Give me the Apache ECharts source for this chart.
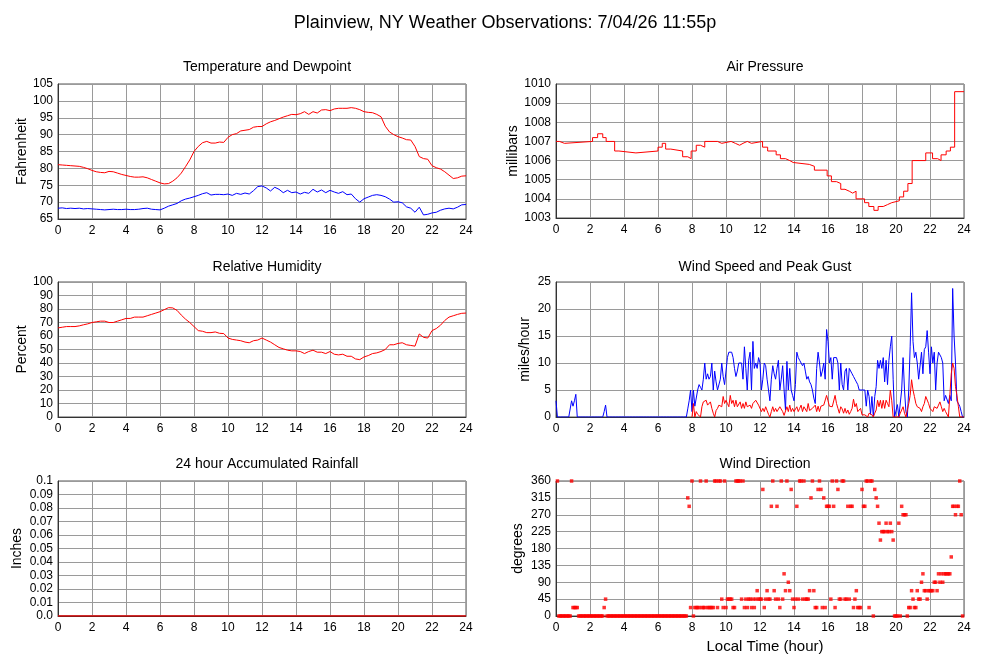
<!DOCTYPE html>
<html><head><meta charset="utf-8">
<script src="https://cdn.jsdelivr.net/npm/echarts@6/dist/echarts.min.js"></script>
<style>html,body{margin:0;padding:0;background:#fff}#c{width:1000px;height:660px}</style>
</head><body><div id="c"></div>
<script>
// ---- data (15-minute samples, 0..24 h) ----
const tempF = [
81.1,81.0,80.9,80.8, 80.7,80.6,80.3,79.9, 79.4,79.0,78.8,78.7, 79.1,79.0,78.6,78.2,
77.9,77.6,77.4,77.4, 77.5,77.2,76.7,76.2, 75.7,75.4,75.5,76.2, 77.2,78.6,80.5,82.5,
85.0,86.5,87.6,88.0, 87.5,87.5,87.8,87.7, 89.2,90.0,90.3,91.1, 91.3,91.5,92.2,92.4,
92.4,93.2,93.8,94.2, 94.7,95.2,95.6,96.0, 95.9,96.2,96.8,96.0, 96.8,96.4,97.3,97.4,
97.1,97.6,97.8,97.8, 97.8,98.0,97.8,97.4, 96.8,96.6,96.5,96.0, 95.3,92.5,90.8,90.0,
89.4,89.0,88.5,88.4, 86.5,83.5,82.9,82.7, 80.8,80.2,79.8,79.0, 78.0,77.0,77.2,77.7,
77.8];
const dewF = [
68.2,68.3,68.1,68.2, 68.1,68.2,68.0,68.1, 68.0,67.9,67.8,67.7, 67.8,67.9,67.8,67.8,
67.9,67.8,67.8,67.9, 68.1,68.2,67.9,67.8, 67.7,68.2,68.8,69.2, 69.6,70.4,70.9,71.2,
71.6,72.0,72.5,72.8, 72.1,72.3,72.3,72.2, 72.4,72.0,72.6,72.3, 72.7,72.4,73.4,74.6,
74.8,74.2,73.3,74.4, 73.8,72.8,73.5,72.8, 73.0,72.4,72.9,72.6, 73.8,73.0,73.6,72.8,
73.5,73.0,72.6,73.1, 72.2,72.4,71.0,70.0, 71.0,71.5,72.0,72.2, 72.0,71.6,70.9,70.0,
70.1,69.8,68.6,68.2, 67.0,68.5,66.2,66.4, 66.8,67.0,67.6,68.0, 68.2,68.0,68.5,69.2,
69.3];
const rhPct = [
66,66.5,67,67, 67,67.5,68.3,69, 70,70.5,71,71, 70,70,71,72,
73,73,74,74, 74,75,76,77, 78,79.5,81,80.8, 79,75.5,72.5,70,
67,64,63.5,62.5, 62.5,63,62,61.8, 58.5,57.5,57,56.5, 55.5,55,56.5,57,
58.5,57,55.5,53.5, 51.5,50.5,49.5,49, 49,48.5,47,48.5, 49.5,48,48,47,
48.5,46.5,46,46.5, 45,45,43,42.5, 44.5,45.5,47,47.5, 48.5,50,53.5,53.5,
54.5,55,53.5,53, 52.5,61.5,59,58.5, 64,65.5,68,71.5, 74,75,76,76.8,
77];
// pressure: hour at which each reading begins, and the reading
const presHours = [0,0.2,0.5,2.15,2.45,2.75,2.95,3.45,3.7,4.7,6.0,6.25,6.45,6.75,7.45,7.75,7.95,8.25,8.5,8.75,
9.5,9.75,10.3,10.55,10.8,11.0,11.25,11.5,12.15,12.45,12.95,13.2,13.5,13.75,13.95,14.9,15.2,15.95,16.2,16.5,
16.75,17.0,17.25,17.45,17.65,18.15,18.4,18.7,18.95,19.25,19.5,19.75,20.2,20.45,20.7,20.95,21.75,22.15,22.45,22.65,
22.95,23.2,23.45,24];
const presMb = [1007.0,1006.9,1007.0,1007.2,1007.4,1007.2,1007.0,1006.5,1006.4,1006.5,1006.7,1006.9,1006.6,1006.5,1006.2,1006.1,1006.5,1006.8,1006.7,1007.0,
1006.9,1007.0,1006.9,1006.8,1006.9,1007.0,1006.9,1007.0,1006.7,1006.5,1006.3,1006.1,1006.0,1005.9,1005.8,1005.7,1005.5,1005.2,1004.9,1004.8,
1004.5,1004.4,1004.3,1004.4,1004.0,1003.8,1003.6,1003.4,1003.6,1003.7,1003.8,1003.9,1004.1,1004.4,1004.8,1006.0,1006.4,1006.1,1006.0,1006.3,
1006.5,1006.7,1009.6,1009.6];
const rainHours = [0,24];
const rainIn = [0,0];
// 5-minute samples, 12 per hour
const gustMph = [
3,0,0,0,0,0,0,0,0,0,0,3,
2,3,4.2,0,0,0,0,0,0,0,0,0,
0,0,0,0,0,0,0,0,0,0,1,2.2,
0,0,0,0,0,0,0,0,0,0,0,0,
0,0,0,0,0,0,0,0,0,0,0,0,
0,0,0,0,0,0,0,0,0,0,0,0,
0,0,0,0,0,0,0,0,0,0,0,0,
0,0,0,0,0,0,0,0,0,1.5,3,5,
1,5,2,2,5,6,5.5,5,7,10,7,8,
7,7.5,10,5,8.5,6.5,5,5,7,10,7.5,6,
6,11,12,12,12,11,9,7.5,8.5,10,10,10,
7,13,9,5,10.5,12,5,14,9,10,9,11,
10,5,7,10,9.5,7,5,3,7,9.5,8,7,
9,10.5,5,7,9.5,5,1.3,10.3,5,9,5,4,
3,6,12,11,10.5,10,9.5,10,8.5,7,7.5,6.5,
6,5,3.5,2.5,9,12,10,7.5,8.5,10,7,16.2,
14,10,11,7,11,11,11,10,5,10,6,5,
8.5,9,5,9,8.7,8,7.5,7,6.5,6,5,5,
5,5,5,2,5,3.8,0.5,3.8,0,3.8,5.6,10.5,
9,10.5,9,11,6.5,10.5,6,10.5,13,15,7,0,
0,2.3,0,0,5,11,5,1,0,5,13,23,
14,11,12,10,7,7,12,8,12.5,13,16,12,
8,13,10,12,5,10,12,12,11,10,3,4,
4,2.5,4,3,23.8,15,10,3,3,2,1,0,
0];
const _ = null;
const speedMph = [
_,_,_,_,_,_,_,_,_,_,_,_,
_,_,_,_,_,_,_,_,_,_,_,_,
_,_,_,_,_,_,_,_,_,_,_,_,
_,_,_,_,_,_,_,_,_,_,_,_,
_,_,_,_,_,_,_,_,_,_,_,_,
_,_,_,_,_,_,_,_,_,_,_,_,
_,_,_,_,_,_,_,_,_,_,_,_,
_,_,_,_,_,_,_,_,_,_,_,_,
0,2.5,0,1,0.5,0.5,0,1.9,2.8,2.5,3.1,2.2,
2.5,2.8,1.6,0.7,0,1.2,1.6,2.2,1.9,1.9,3.8,2.5,
3.1,2.5,1.9,4,2.5,3.1,1.9,3.1,1.9,1.9,2.8,1.6,
2.5,1.6,2.8,1.9,1.9,2.2,1.6,2.5,2.8,3.1,3.1,2.2,
2.5,1,1.6,1,1.9,1.2,0.5,0,1,1.9,1,1.6,
1,1,1.9,1.6,1,0.3,0,1.9,1,2.2,1,1.6,
1,1,1.9,1,1.6,2.2,1,1.9,1.6,1,2.5,1.2,
1,1.6,1.9,2.2,1,2,1,2,2,2.2,2,4,
3,2,1.9,1.9,2,4,2.5,1.6,0.7,1.9,1.5,0.7,
1.6,0.7,1.3,0.5,1,1.6,3.3,1.9,2.5,1,1,1.6,
0.4,0.7,0.4,0.7,0,0.7,0.4,0.4,0,0.7,1.3,3.1,
1.9,3.1,1.6,3.1,1.6,3.1,2.5,1.9,5,3,0,0,
0,0,0,0.7,0.7,1.9,0.7,0,1.3,2.5,4,6.9,
5,3.8,2.5,1.9,1.9,1.6,1,1.9,2.5,3.8,3.8,2.5,
1.6,1.9,1,1.9,1.9,1.6,2.2,2.8,1.9,1,1.6,1,
1,0,0,8,10,9,5.6,4,2,0,0,0,
0];
const windDirDeg = [
_,360,0,0,0,0,0,0,0,0,0,360,
22.5,22.5,22.5,22.5,0,0,0,0,0,0,0,0,
0,0,0,0,0,0,0,0,0,0,22.5,45,
0,0,0,0,0,0,0,0,0,0,0,0,
0,0,0,0,0,0,0,0,0,0,0,0,
0,0,0,0,0,0,0,0,0,0,0,0,
0,0,0,0,0,0,0,0,0,0,0,0,
0,0,0,0,0,0,0,0,0,315,292.5,22.5,
360,0,22.5,22.5,22.5,22.5,360,22.5,22.5,22.5,360,22.5,
22.5,22.5,22.5,22.5,360,360,22.5,360,360,45,22.5,360,
22.5,45,45,45,45,22.5,22.5,360,360,360,360,45,
360,22.5,45,22.5,45,45,22.5,45,22.5,45,67.5,45,
45,45,337.5,22.5,45,67.5,45,45,292.5,360,67.5,45,
292.5,45,22.5,360,45,112.5,67.5,360,90,67.5,337.5,45,
22.5,45,292.5,45,360,360,45,360,45,45,45,67.5,
315,360,67.5,22.5,22.5,337.5,360,337.5,22.5,315,22.5,292.5,
292.5,292.5,45,360,292.5,22.5,360,337.5,45,45,360,360,
45,45,292.5,45,292.5,292.5,22.5,45,67.5,22.5,22.5,22.5,
337.5,292.5,292.5,360,360,22.5,360,360,0,337.5,315,292.5,
247.5,202.5,225,225,225,247.5,225,225,247.5,225,202.5,0,
0,0,247.5,0,292.5,270,270,270,0,22.5,22.5,67.5,
45,22.5,22.5,67.5,45,45,90,112.5,67.5,67.5,45,67.5,
67.5,67.5,67.5,90,90,67.5,112.5,90,112.5,90,112.5,112.5,
112.5,112.5,112.5,157.5,292.5,292.5,270,292.5,292.5,360,270,0];

const mainTitle = 'Plainview, NY Weather Observations: 7/04/26 11:55p';
const panelTitles = ['Temperature and Dewpoint','Air Pressure','Relative Humidity','Wind Speed and Peak Gust','24 hour Accumulated Rainfall','Wind Direction'];
const yNames = ['Fahrenheit','millibars','Percent','miles/hour','Inches','degrees'];

// ---- build ----
const FF = 'Liberation Sans, Arial, sans-serif';
const qH = i => i / 4, fH = i => i / 12;
const pairs = (vals, hf) => vals.map((v, i) => [hf(i), v]);

const grids = [
  {left:58, top:84, width:408, height:135},
  {left:556, top:84, width:408, height:134},
  {left:58, top:282, width:408, height:135},
  {left:556, top:282, width:408, height:135},
  {left:58, top:481, width:408, height:135},
  {left:556, top:481, width:408, height:135}
].map(g => Object.assign(g, {show:true, borderColor:'#555', borderWidth:1, backgroundColor:'#fff'}));

const xAxes = grids.map((g, gi) => ({
  type:'value', gridIndex:gi, min:0, max:24, interval:2,
  axisLine:{show:true, lineStyle:{color:'#333'}}, axisTick:{show:false},
  axisLabel:{color:'#000', fontSize:12, margin:6, fontFamily:FF},
  splitLine:{show:true, lineStyle:{color:'#9a9a9a', width:1}}
}));
const plain = v => String(v);
const yCfg = [
  [65,105,5,29,plain],
  [1003,1010,1,30,plain],
  [0,100,10,29,plain],
  [0,25,5,24,plain],
  [0,0.1,0.01,34,v => v === 0 ? '0.0' : String(+v.toFixed(2))],
  [0,360,45,31,plain]
];
const yAxes = yCfg.map((c, gi) => ({
  type:'value', gridIndex:gi, min:c[0], max:c[1], interval:c[2],
  name:yNames[gi], nameLocation:'middle', nameGap:c[3],
  nameTextStyle:{color:'#000', fontSize:14, fontFamily:FF},
  axisLine:{show:true, lineStyle:{color:'#333'}}, axisTick:{show:false},
  axisLabel:{color:'#000', fontSize:12, margin:5, fontFamily:FF, formatter:c[4]},
  splitLine:{show:true, lineStyle:{color:'#9a9a9a', width:1}}
}));

const lineS = (gi, data, color, extra) => Object.assign({
  type:'line', xAxisIndex:gi, yAxisIndex:gi, data, showSymbol:false, symbol:'none',
  lineStyle:{color, width:1}, itemStyle:{color}, animation:false, connectNulls:false
}, extra || {});

const series = [
  lineS(0, pairs(dewF, qH), '#0000ff'),
  lineS(0, pairs(tempF, qH), '#ff0000'),
  lineS(1, presMb.map((v, i) => [presHours[i], v]), '#ff0000', {step:'end'}),
  lineS(2, pairs(rhPct, qH), '#ff0000'),
  lineS(3, pairs(gustMph, fH), '#0000ff'),
  lineS(3, pairs(speedMph, fH), '#ff0000'),
  lineS(4, rainIn.map((v, i) => [rainHours[i], v]), '#e00000', {lineStyle:{color:'#e00000', width:1.5}}),
  {type:'scatter', xAxisIndex:5, yAxisIndex:5, symbol:'rect', symbolSize:3.5,
   itemStyle:{color:'#ff0000'}, animation:false,
   data: pairs(windDirDeg, fH).filter(p => p[1] !== null)}
];

const titleCenters = [[262,55],[760,55],[262,255],[760,255],[262,452],[760,452]];
const titles = [{text:mainTitle, left:500, top:9, textAlign:'center',
  textStyle:{fontSize:18, fontWeight:'normal', color:'#000', fontFamily:FF}}]
  .concat(panelTitles.map((t, i) => ({text:t, left:titleCenters[i][0], top:titleCenters[i][1], textAlign:'center',
    textStyle:{fontSize:14, fontWeight:'normal', color:'#000', fontFamily:FF}})))
  .concat([{text:'Local Time (hour)', left:760, top:634, textAlign:'center',
    textStyle:{fontSize:15, fontWeight:'normal', color:'#000', fontFamily:FF}}]);

const chart = echarts.init(document.getElementById('c'), null, {renderer:'canvas'});
chart.setOption({
  backgroundColor:'#fff', animation:false,
  title:titles, grid:grids, xAxis:xAxes, yAxis:yAxes, series
});
</script></body></html>
